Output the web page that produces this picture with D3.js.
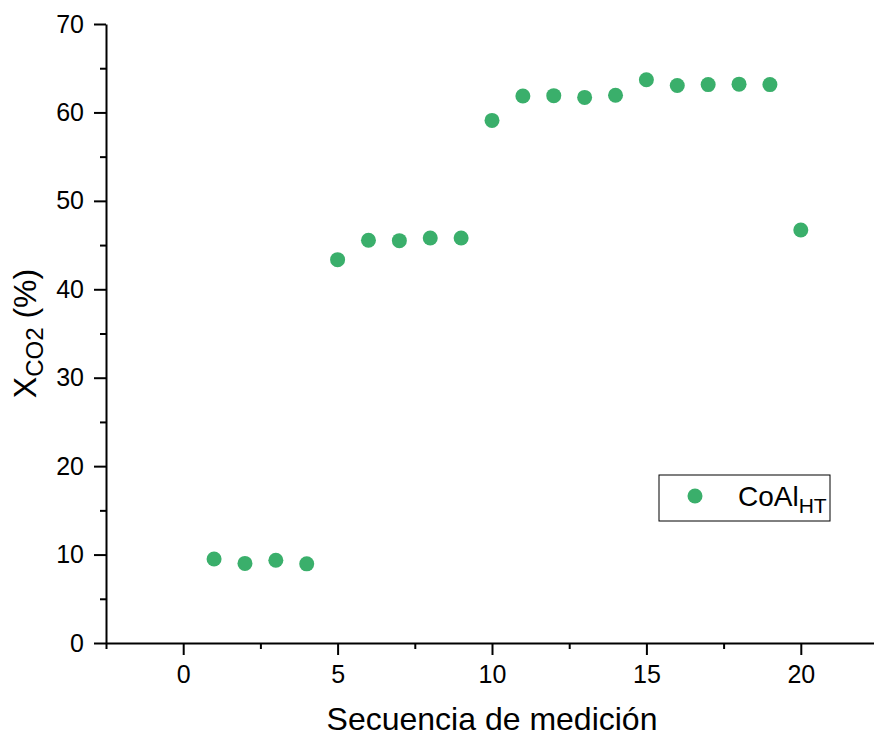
<!DOCTYPE html>
<html>
<head>
<meta charset="utf-8">
<script src="https://cdn.jsdelivr.net/npm/d3@7"></script>
<style>
  body { margin: 0; background: #fff; }
  svg { display: block; font-family: "Liberation Sans", Arial, sans-serif; }
</style>
</head>
<body>
<div class="container"></div>
<script>
const WIDTH = 874;
const HEIGHT = 737;

// measurement sequence and CO2 conversion (%)
var sequence = [1, 2, 3, 4, 5, 6, 7, 8, 9, 10, 11, 12, 13, 14, 15, 16, 17, 18, 19, 20];
var conversion = [9.5, 9.0, 9.35, 8.95, 43.35, 45.55, 45.5, 45.8, 45.8, 59.1,
                  61.85, 61.9, 61.7, 61.95, 63.7, 63.05, 63.15, 63.2, 63.15, 46.7];
var xTicks = [0, 5, 10, 15, 20];
var yTicks = [0, 10, 20, 30, 40, 50, 60, 70];

var margin = { left: 106, top: 24, right: 874 - 878, bottom: 737 - 643 };
var color = '#3aaf6b';

var x = d3.scaleLinear().domain([-2.5, 22.5]).range([margin.left, WIDTH - margin.right]);
var y = d3.scaleLinear().domain([0, 70]).range([HEIGHT - margin.bottom, margin.top]);

var svg = d3.select('.container').append('svg')
  .attr('width', WIDTH)
  .attr('height', HEIGHT);

function translate(a, b) {
  return 'translate(' + a + ',' + b + ')';
}

// minor ticks
var xMinor = d3.range(-2.5, 23, 2.5).filter(function (v) { return v % 5 !== 0; });
var yMinor = d3.range(5, 70, 10);

svg.append('g')
  .attr('transform', translate(0, y(0)))
  .call(d3.axisBottom(x).tickValues(xMinor).tickSize(6).tickFormat(''))
  .call(function (g) { g.select('.domain').remove(); });

svg.append('g')
  .attr('transform', translate(x(-2.5), 0))
  .call(d3.axisLeft(y).tickValues(yMinor).tickSize(6).tickFormat(''))
  .call(function (g) { g.select('.domain').remove(); });

var xAxis = svg.append('g')
  .attr('transform', translate(0, y(0)))
  .call(d3.axisBottom(x).tickValues(xTicks).tickSize(12).tickSizeOuter(0).tickPadding(10));

var yAxis = svg.append('g')
  .attr('transform', translate(x(-2.5), 0))
  .call(d3.axisLeft(y).tickValues(yTicks).tickSize(12).tickSizeOuter(0).tickPadding(10));

svg.selectAll('.domain, .tick line')
  .attr('stroke', '#000')
  .attr('stroke-width', 2);

svg.selectAll('.tick text')
  .attr('fill', '#000')
  .style('font-size', '25px')
  .style('font-family', '"Liberation Sans", Arial, sans-serif');

// axis titles
svg.append('text')
  .attr('x', x(10))
  .attr('y', 730)
  .attr('text-anchor', 'middle')
  .style('font-size', '32px')
  .text('Secuencia de medición');

var yTitle = svg.append('text')
  .attr('transform', translate(36, y(35)) + ' rotate(-90)')
  .attr('text-anchor', 'middle')
  .style('font-size', '32px');
yTitle.append('tspan').text('X');
yTitle.append('tspan').attr('dy', 7).style('font-size', '24px').text('CO2');
yTitle.append('tspan').attr('dy', -7).text(' (%)');

// points
svg.append('g')
  .selectAll('circle')
  .data(sequence)
  .enter().append('circle')
  .attr('cx', function (d) { return x(d); })
  .attr('cy', function (d, i) { return y(conversion[i]); })
  .attr('r', 7.5)
  .attr('fill', color);

// legend
var legend = svg.append('g').attr('transform', translate(659, 475));
legend.append('rect')
  .attr('width', 171)
  .attr('height', 46)
  .attr('fill', '#fff')
  .attr('stroke', '#000')
  .attr('stroke-width', 1);
legend.append('circle')
  .attr('cx', 36)
  .attr('cy', 21)
  .attr('r', 7.5)
  .attr('fill', color);
var lt = legend.append('text')
  .attr('x', 79)
  .attr('y', 31)
  .style('font-size', '28px');
lt.append('tspan').text('CoAl');
lt.append('tspan').attr('dy', 7).style('font-size', '21px').text('HT');
</script>
</body>
</html>
